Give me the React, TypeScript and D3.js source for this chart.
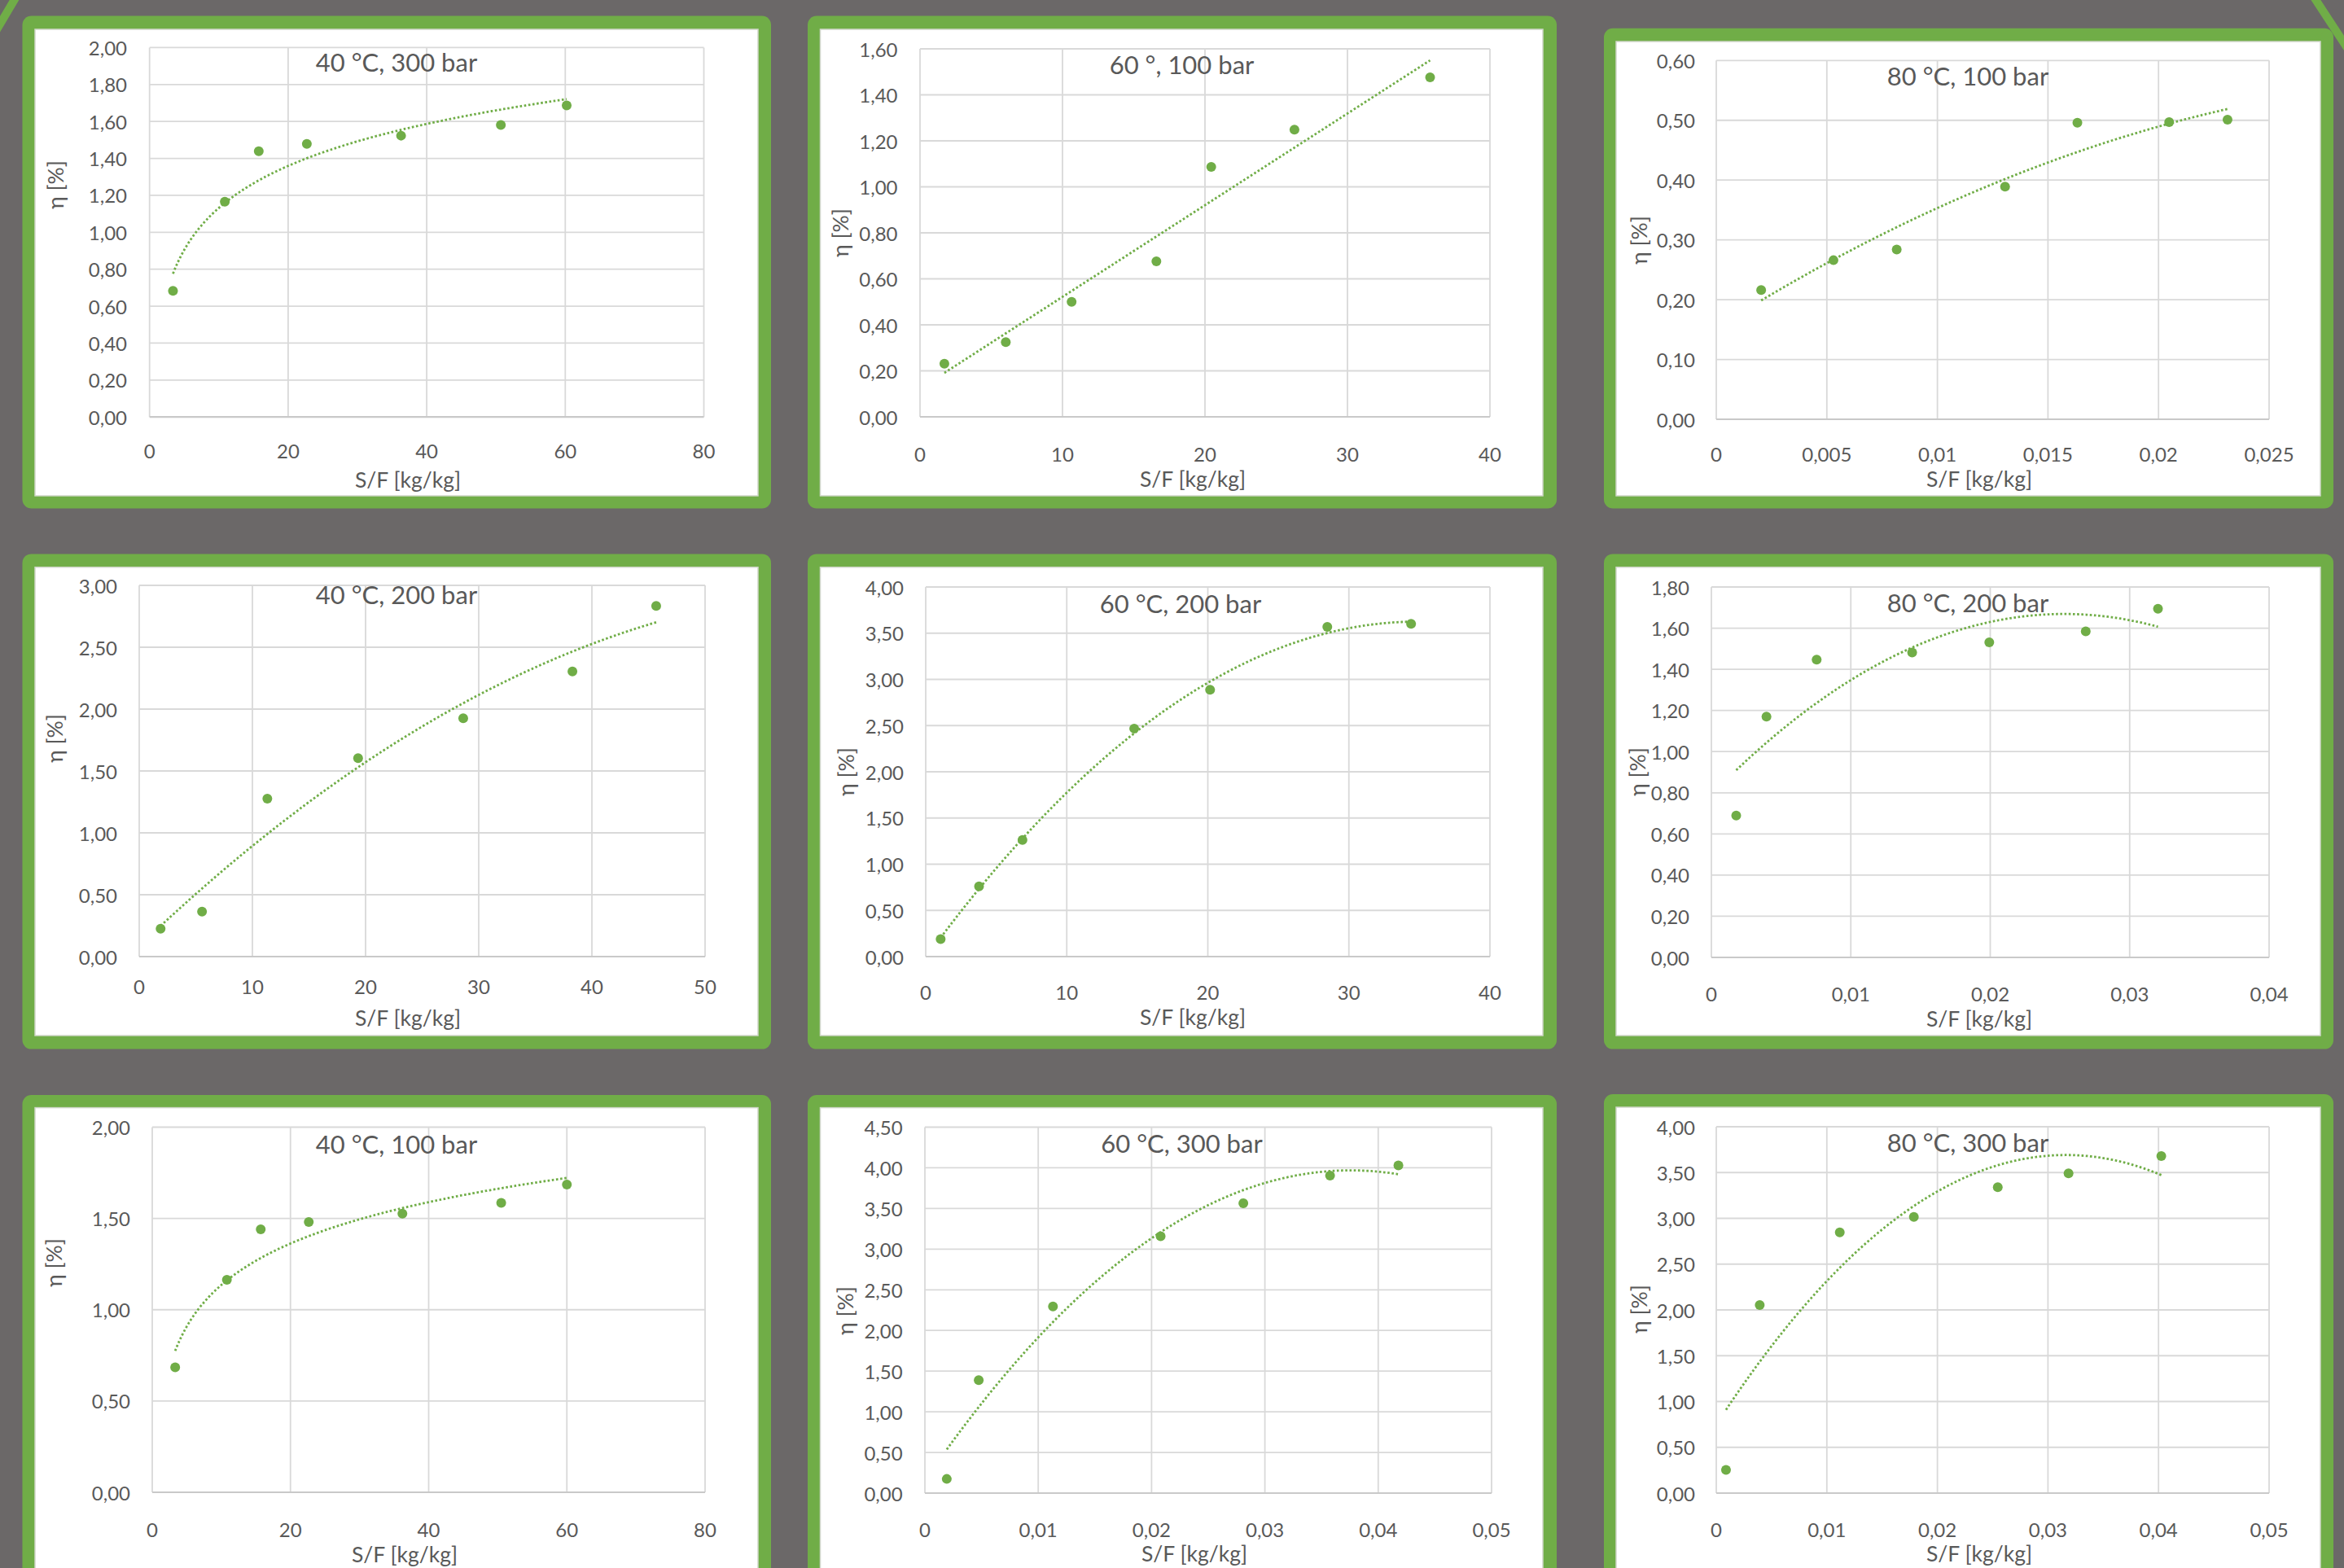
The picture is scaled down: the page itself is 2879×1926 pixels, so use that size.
import React from "react";
import * as d3 from "d3";

// ---------------- DATA ----------------
const titles = [
  "40 °C, 300 bar", "60 °, 100 bar", "80 °C, 100 bar",
  "40 °C, 200 bar", "60 °C, 200 bar", "80 °C, 200 bar",
  "40 °C, 100 bar", "60 °C, 300 bar", "80 °C, 300 bar",
];
const xAxisTitle = "S/F [kg/kg]";
const yAxisTitle = "η [%]";

const p1X = [3.38, 10.86, 15.76, 22.7, 36.3, 50.7, 60.2];
const p1Y = [0.683, 1.165, 1.439, 1.478, 1.523, 1.581, 1.687];
const p2X = [1.71, 6.02, 10.64, 16.59, 20.44, 26.28, 35.8];
const p2Y = [0.231, 0.325, 0.5, 0.676, 1.087, 1.249, 1.476];
const p3X = [0.00203, 0.0053, 0.00816, 0.01306, 0.01633, 0.02048, 0.02312];
const p3Y = [0.216, 0.266, 0.284, 0.389, 0.496, 0.497, 0.501];
const p4X = [1.89, 5.55, 11.32, 19.34, 28.63, 38.28, 45.68];
const p4Y = [0.226, 0.363, 1.276, 1.604, 1.926, 2.305, 2.834];
const p5X = [1.06, 3.78, 6.86, 14.78, 20.16, 28.47, 34.41];
const p5Y = [0.19, 0.759, 1.263, 2.468, 2.888, 3.568, 3.601];
const p6X = [0.00178, 0.00395, 0.00755, 0.0144, 0.01993, 0.02685, 0.03203];
const p6Y = [0.689, 1.17, 1.447, 1.482, 1.531, 1.584, 1.694];
const p7X = [3.32, 10.8, 15.7, 22.65, 36.2, 50.5, 60.0];
const p7Y = [0.684, 1.164, 1.44, 1.481, 1.526, 1.585, 1.686];
const p8X = [0.00193, 0.00475, 0.0113, 0.0208, 0.0281, 0.03575, 0.04178];
const p8Y = [0.174, 1.389, 2.295, 3.158, 3.564, 3.905, 4.029];
const p9X = [0.00088, 0.00393, 0.01117, 0.01787, 0.02546, 0.03186, 0.04025];
const p9Y = [0.254, 2.053, 2.846, 3.015, 3.341, 3.492, 3.681];

const trendTypes = ["log", "linear", "poly2", "poly2", "poly2", "poly2", "log", "poly2", "poly2"];

const xTicks1 = [0, 20, 40, 60, 80];
const xTicks2 = [0, 10, 20, 30, 40];
const xTicks3 = [0, 0.005, 0.01, 0.015, 0.02, 0.025];
const xTicks4 = [0, 10, 20, 30, 40, 50];
const xTicks5 = [0, 10, 20, 30, 40];
const xTicks6 = [0, 0.01, 0.02, 0.03, 0.04];
const xTicks7 = [0, 20, 40, 60, 80];
const xTicks8 = [0, 0.01, 0.02, 0.03, 0.04, 0.05];
const xTicks9 = [0, 0.01, 0.02, 0.03, 0.04, 0.05];

const yTicks1 = [0, 0.2, 0.4, 0.6, 0.8, 1.0, 1.2, 1.4, 1.6, 1.8, 2.0];
const yTicks2 = [0, 0.2, 0.4, 0.6, 0.8, 1.0, 1.2, 1.4, 1.6];
const yTicks3 = [0, 0.1, 0.2, 0.3, 0.4, 0.5, 0.6];
const yTicks4 = [0, 0.5, 1.0, 1.5, 2.0, 2.5, 3.0];
const yTicks5 = [0, 0.5, 1.0, 1.5, 2.0, 2.5, 3.0, 3.5, 4.0];
const yTicks6 = [0, 0.2, 0.4, 0.6, 0.8, 1.0, 1.2, 1.4, 1.6, 1.8];
const yTicks7 = [0, 0.5, 1.0, 1.5, 2.0];
const yTicks8 = [0, 0.5, 1.0, 1.5, 2.0, 2.5, 3.0, 3.5, 4.0, 4.5];
const yTicks9 = [0, 0.5, 1.0, 1.5, 2.0, 2.5, 3.0, 3.5, 4.0];

const seriesX = [p1X, p2X, p3X, p4X, p5X, p6X, p7X, p8X, p9X];
const seriesY = [p1Y, p2Y, p3Y, p4Y, p5Y, p6Y, p7Y, p8Y, p9Y];
const xTicksAll = [xTicks1, xTicks2, xTicks3, xTicks4, xTicks5, xTicks6, xTicks7, xTicks8, xTicks9];
const yTicksAll = [yTicks1, yTicks2, yTicks3, yTicks4, yTicks5, yTicks6, yTicks7, yTicks8, yTicks9];

// ---------------- LAYOUT ----------------
type Layout = {
  outer: number[]; inner: number[]; plot: number[];
  yLabRight: number; xLabY: number;
  titleX: number; titleY: number;
  yTitleX: number; yTitleY: number;
  xTitleX: number; xTitleY: number;
};
const layouts: Layout[] = [
  { outer: [27.5, 19.6, 947, 624.5], inner: [43, 36, 931, 609], plot: [183.7, 58.4, 864.5, 512.2], yLabRight: 156, xLabY: 553.5, titleX: 487, titleY: 76, yTitleX: 68, yTitleY: 227, xTitleX: 501, xTitleY: 588.5 },
  { outer: [992, 19.6, 1912, 624.5], inner: [1007.5, 36, 1895, 609], plot: [1130, 60, 1830, 512], yLabRight: 1102.5, xLabY: 557, titleX: 1451.5, titleY: 79, yTitleX: 1032, yTitleY: 286, xTitleX: 1465, xTitleY: 588 },
  { outer: [1970, 34.7, 2866, 624.5], inner: [1985, 51, 2850, 609], plot: [2108, 74.3, 2787, 515], yLabRight: 2082, xLabY: 557, titleX: 2417, titleY: 93, yTitleX: 2013, yTitleY: 295, xTitleX: 2431, xTitleY: 588 },
  { outer: [27.5, 680.4, 947, 1288.6], inner: [43, 696.7, 931, 1272], plot: [171, 719, 866, 1175], yLabRight: 144, xLabY: 1211, titleX: 487, titleY: 730, yTitleX: 67, yTitleY: 907, xTitleX: 501, xTitleY: 1250 },
  { outer: [992, 680.4, 1912, 1288.6], inner: [1007.5, 696.7, 1895, 1272], plot: [1137, 721, 1830, 1175], yLabRight: 1110, xLabY: 1218.5, titleX: 1450, titleY: 740.5, yTitleX: 1039, yTitleY: 948, xTitleX: 1465, xTitleY: 1249 },
  { outer: [1970, 680.4, 2866, 1288.6], inner: [1985, 696.7, 2850, 1272], plot: [2102, 721, 2787, 1176], yLabRight: 2075, xLabY: 1220, titleX: 2417, titleY: 740, yTitleX: 2011, yTitleY: 948, xTitleX: 2431, xTitleY: 1251 },
  { outer: [27.5, 1345, 947, 1960], inner: [43, 1360.6, 931, 1960], plot: [187, 1384.5, 866, 1833], yLabRight: 160, xLabY: 1878, titleX: 487, titleY: 1405, yTitleX: 66, yTitleY: 1551, xTitleX: 497, xTitleY: 1909 },
  { outer: [992, 1345, 1912, 1960], inner: [1007.5, 1360.6, 1895, 1960], plot: [1136, 1384.5, 1832, 1834], yLabRight: 1108.6, xLabY: 1878, titleX: 1451.5, titleY: 1404, yTitleX: 1038, yTitleY: 1610, xTitleX: 1467, xTitleY: 1908 },
  { outer: [1970, 1344, 2866, 1960], inner: [1985, 1360, 2850, 1960], plot: [2108, 1384, 2787, 1834], yLabRight: 2082, xLabY: 1878, titleX: 2417, titleY: 1403, yTitleX: 2013, yTitleY: 1608, xTitleX: 2431, xTitleY: 1908 },
];

const W = 2879;
const H = 1926;
const BG = "#6b6868";
const GREEN = "#70ad47";
const TEXT = "#595959";
const GRID = "#d9d9d9";
const FONT = "Lato, 'Open Sans', 'Noto Sans', sans-serif";

// ---------------- TREND FITS (least squares, as the spreadsheet does) ----------------
function solve3(A: number[][], b: number[]): number[] {
  const M = A.map((r, i) => [...r, b[i]]);
  for (let c = 0; c < 3; c++) {
    let p = c;
    for (let r = c + 1; r < 3; r++) if (Math.abs(M[r][c]) > Math.abs(M[p][c])) p = r;
    [M[c], M[p]] = [M[p], M[c]];
    for (let r = 0; r < 3; r++) {
      if (r === c) continue;
      const f = M[r][c] / M[c][c];
      for (let k = c; k < 4; k++) M[r][k] -= f * M[c][k];
    }
  }
  return [M[0][3] / M[0][0], M[1][3] / M[1][1], M[2][3] / M[2][2]];
}
function linReg(xs: number[], ys: number[]) {
  const mx = d3.mean(xs)!, my = d3.mean(ys)!;
  let sxy = 0, sxx = 0;
  xs.forEach((x, i) => { sxy += (x - mx) * (ys[i] - my); sxx += (x - mx) ** 2; });
  const a = sxy / sxx;
  return { a, b: my - a * mx };
}
function makeTrend(kind: string, xs: number[], ys: number[]): (x: number) => number {
  if (kind === "linear") {
    const { a, b } = linReg(xs, ys);
    return (x) => a * x + b;
  }
  if (kind === "log") {
    const { a, b } = linReg(xs.map(Math.log), ys);
    return (x) => a * Math.log(x) + b;
  }
  const s = d3.max(xs)!;
  const u = xs.map((x) => x / s);
  const S = (p: number) => d3.sum(u, (v) => v ** p);
  const T = (p: number) => d3.sum(u, (v, i) => v ** p * ys[i]);
  const A = [
    [S(0), S(1), S(2)],
    [S(1), S(2), S(3)],
    [S(2), S(3), S(4)],
  ];
  const [c0, c1, c2] = solve3(A, [T(0), T(1), T(2)]);
  return (x) => c0 + c1 * (x / s) + c2 * (x / s) ** 2;
}

const fmtY = (v: number) => v.toFixed(2).replace(".", ",");
const fmtX = (v: number) => String(parseFloat(v.toFixed(6))).replace(".", ",");

function Panel({ i }: { i: number }) {
  const L = layouts[i];
  const xs = seriesX[i];
  const ys = seriesY[i];
  const xt = xTicksAll[i];
  const yt = yTicksAll[i];
  const [pl, pt, pr, pb] = L.plot;
  const x = d3.scaleLinear().domain([xt[0], xt[xt.length - 1]]).range([pl, pr]);
  const y = d3.scaleLinear().domain([yt[0], yt[yt.length - 1]]).range([pb, pt]);
  const f = makeTrend(trendTypes[i], xs, ys);
  const x0 = d3.min(xs)!, x1 = d3.max(xs)!;
  const samples = d3.range(0, 201).map((k) => x0 + ((x1 - x0) * k) / 200);
  const line = d3.line<number>().x((v) => x(v)).y((v) => y(f(v)));
  const [ox0, oy0, ox1, oy1] = L.outer;
  const [ix0, iy0, ix1, iy1] = L.inner;
  return (
    <g>
      <rect x={ox0} y={oy0} width={ox1 - ox0} height={oy1 - oy0} rx={11} ry={11} fill={GREEN} />
      <rect x={ix0} y={iy0} width={ix1 - ix0} height={iy1 - iy0} fill="#ffffff" stroke="#cfd6c9" strokeWidth={1.5} />
      {xt.map((t) => (
        <line key={"vx" + t} x1={x(t)} x2={x(t)} y1={pt} y2={pb} stroke={GRID} strokeWidth={1.8} />
      ))}
      {yt.map((t, k) => (
        <line key={"hy" + t} x1={pl} x2={pr} y1={y(t)} y2={y(t)} stroke={k === 0 ? "#c9c9c9" : GRID} strokeWidth={k === 0 ? 2.2 : 1.8} />
      ))}
      {yt.map((t) => (
        <text key={"yl" + t} x={L.yLabRight} y={y(t)} textAnchor="end" dominantBaseline="central" fontSize={24} fill={TEXT} fontFamily={FONT}>
          {fmtY(t)}
        </text>
      ))}
      {xt.map((t) => (
        <text key={"xl" + t} x={x(t)} y={L.xLabY} textAnchor="middle" dominantBaseline="central" fontSize={24} fill={TEXT} fontFamily={FONT}>
          {fmtX(t)}
        </text>
      ))}
      <text x={L.titleX} y={L.titleY} textAnchor="middle" dominantBaseline="central" fontSize={31} fill={TEXT} fontFamily={FONT}>
        {titles[i]}
      </text>
      <text x={L.xTitleX} y={L.xTitleY} textAnchor="middle" dominantBaseline="central" fontSize={26.5} fill={TEXT} fontFamily={FONT}>
        {xAxisTitle}
      </text>
      <text
        transform={`translate(${L.yTitleX},${L.yTitleY}) rotate(-90)`}
        textAnchor="middle"
        dominantBaseline="central"
        fontSize={26.5}
        fill={TEXT}
        fontFamily={FONT}
      >
        {yAxisTitle}
      </text>
      <path d={line(samples) || ""} fill="none" stroke={GREEN} strokeWidth={2.8} strokeDasharray="2.6 2.6" />
      {xs.map((v, k) => (
        <circle key={"pt" + k} cx={x(v)} cy={y(ys[k])} r={6} fill={GREEN} />
      ))}
    </g>
  );
}

export default function App() {
  return (
    <svg
      width={W}
      height={H}
      viewBox={`0 0 ${W} ${H}`}
      style={{ position: "absolute", left: 0, top: 0, display: "block" }}
    >
      <rect x={0} y={0} width={W} height={H} fill={BG} />
      <line x1={40} x2={-15} y1={-38} y2={55} stroke={GREEN} strokeWidth={10} />
      <line x1={2830} x2={2900} y1={-22} y2={85} stroke={GREEN} strokeWidth={10} />
      {layouts.map((_, i) => (
        <Panel key={i} i={i} />
      ))}
    </svg>
  );
}
